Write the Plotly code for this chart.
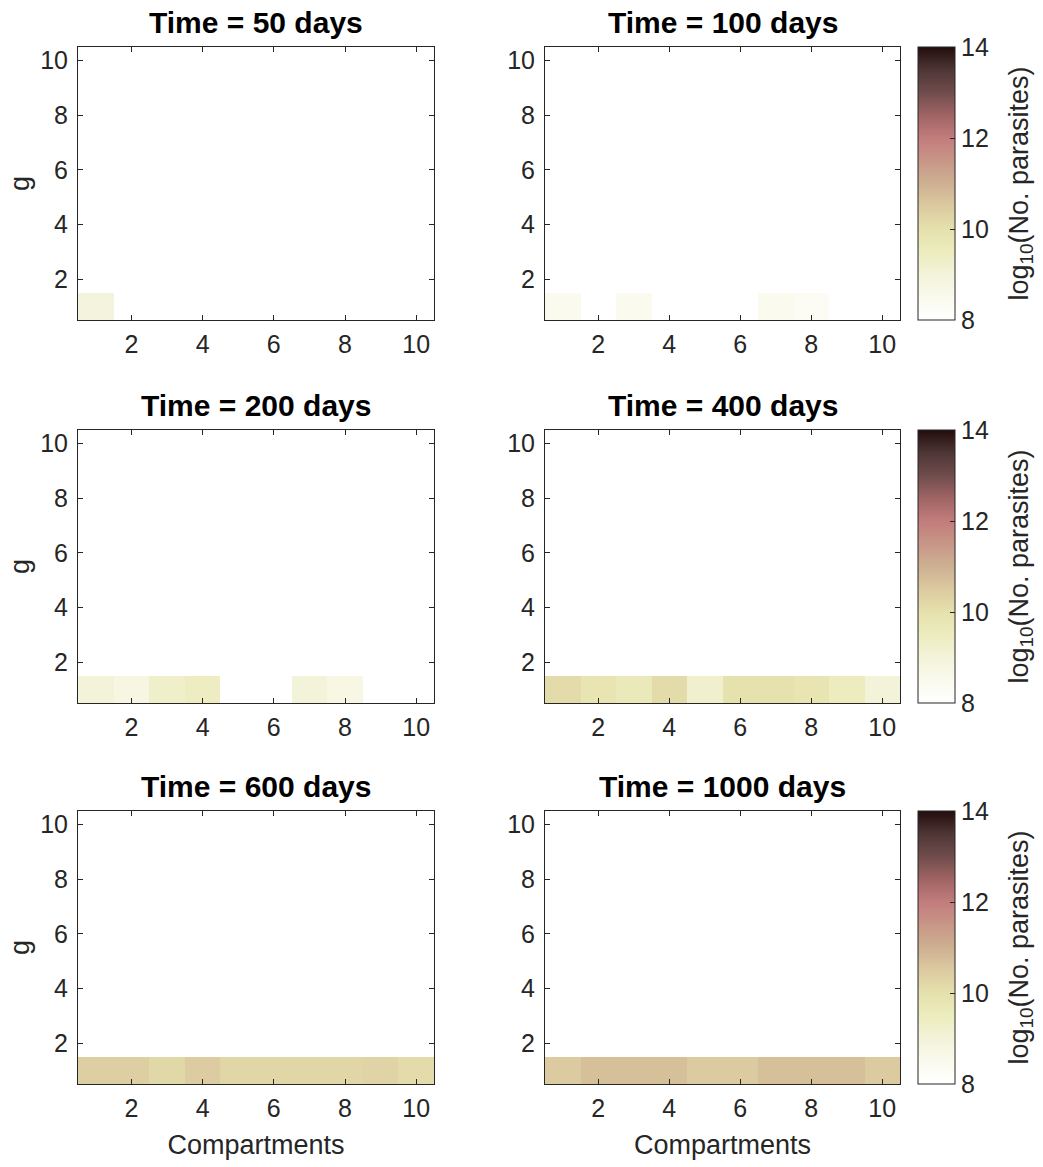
import plotly.graph_objects as go

# ---- data (log10 number of parasites in row g = 1, per compartment) ----
compartments = [1, 2, 3, 4, 5, 6, 7, 8, 9, 10]
g_levels = [1, 2, 3, 4, 5, 6, 7, 8, 9, 10]
titles = ["Time = 50 days", "Time = 100 days", "Time = 200 days",
          "Time = 400 days", "Time = 600 days", "Time = 1000 days"]

t50 = [8.9, None, None, None, None, None, None, None, None, None]
t100 = [8.5, None, 8.5, None, None, None, 8.5, 8.3, None, None]
t200 = [9.0, 8.8, 9.3, 9.45, None, None, 9.0, 8.75, None, None]
t400 = [10.1, 9.8, 9.65, 10.1, 9.2, 9.95, 9.95, 9.8, 9.5, 9.0]
t600 = [10.4, 10.4, 10.2, 10.45, 10.25, 10.25, 10.25, 10.25, 10.3, 10.1]
t1000 = [10.5, 10.7, 10.7, 10.7, 10.5, 10.5, 10.7, 10.7, 10.7, 10.5]
panels = [t50, t100, t200, t400, t600, t1000]

cbar_ticks = [8, 10, 12, 14]
cbar_label = "log<sub>10</sub>(No. parasites)"

colorscale = [
    [0.0, "rgb(255,255,255)"],
    [1/12, "rgb(250,250,238)"],
    [2/12, "rgb(243,243,218)"],
    [3/12, "rgb(236,236,190)"],
    [4/12, "rgb(229,225,172)"],
    [5/12, "rgb(220,202,160)"],
    [6/12, "rgb(206,176,146)"],
    [7/12, "rgb(200,150,135)"],
    [8/12, "rgb(194,124,124)"],
    [9/12, "rgb(160,100,100)"],
    [10/12, "rgb(112,76,76)"],
    [11/12, "rgb(78,54,54)"],
    [1.0, "rgb(35,12,12)"],
]

W, H = 1043, 1167
# plot-area pixel boxes (left, right, top, bottom)
xcols = [(78, 434), (545, 900)]
yrows = [(47, 320), (430, 703), (811, 1084)]

FONT = "Arial, Liberation Sans, sans-serif"
AX = "#262626"
TICK = 25
LABEL = 27
TITLE = 30

fig = go.Figure()
annotations = []

for i, vals in enumerate(panels):
    r, c = divmod(i, 2)
    n = i + 1
    xa = "x" if n == 1 else f"x{n}"
    ya = "y" if n == 1 else f"y{n}"
    z = [[None] * len(compartments) for _ in g_levels]
    z[0] = list(vals)
    show = (c == 1)
    cb = None
    top, bot = yrows[r]
    if show:
        cb = dict(
            x=918 / W, xanchor="left", xpad=0, ypad=0,
            thickness=37, thicknessmode="pixels",
            y=1 - (top + bot) / 2 / H, yanchor="middle",
            len=(bot - top) / H, lenmode="fraction",
            outlinewidth=1, outlinecolor=AX,
            tickvals=cbar_ticks, ticks="inside", ticklen=5, tickcolor=AX,
            tickfont=dict(size=TICK, color=AX, family=FONT),
        )
        annotations.append(dict(
            text=cbar_label, x=1020 / W, y=1 - (top + bot) / 2 / H,
            xref="paper", yref="paper", xanchor="center", yanchor="middle",
            textangle=-90, showarrow=False,
            font=dict(size=LABEL, color=AX, family=FONT),
        ))
    fig.add_trace(go.Heatmap(
        x=compartments, y=g_levels, z=z, zmin=8, zmax=14,
        colorscale=colorscale, showscale=show, colorbar=cb,
        xaxis=xa, yaxis=ya, hoverongaps=False,
    ))
    l, rr = xcols[c]
    axkey = "xaxis" if n == 1 else f"xaxis{n}"
    aykey = "yaxis" if n == 1 else f"yaxis{n}"
    common = dict(
        showline=True, linecolor=AX, linewidth=1, mirror="ticks",
        ticks="inside", ticklen=5, tickcolor=AX, showgrid=False, zeroline=False,
        tickfont=dict(size=TICK, color=AX, family=FONT),
        range=[0.5, 10.5], tickvals=[2, 4, 6, 8, 10],
    )
    xdef = dict(common, domain=[l / W, rr / W], anchor=ya, ticklabelstandoff=2)
    ydef = dict(common, domain=[1 - bot / H, 1 - top / H], anchor=xa,
                ticklabelstandoff=4)
    if r == 2:
        xdef["title"] = dict(text="Compartments",
                             font=dict(size=LABEL, color=AX, family=FONT),
                             standoff=14)
    if c == 0:
        ydef["title"] = dict(text="g",
                             font=dict(size=LABEL, color=AX, family=FONT),
                             standoff=2)
    fig.update_layout({axkey: xdef, aykey: ydef})
    annotations.append(dict(
        text=f"<b>{titles[i]}</b>", x=(l + rr) / 2 / W, y=1 - (top - 6) / H,
        xref="paper", yref="paper", xanchor="center", yanchor="bottom",
        showarrow=False, font=dict(size=TITLE, color="black", family=FONT),
    ))

fig.update_layout(
    width=W, height=H, margin=dict(l=0, r=0, t=0, b=0),
    paper_bgcolor="white", plot_bgcolor="white",
    annotations=annotations, showlegend=False,
)

fig.write_html("out.html", config={"displayModeBar": False},
               post_script="document.body.style.margin='0px';")
